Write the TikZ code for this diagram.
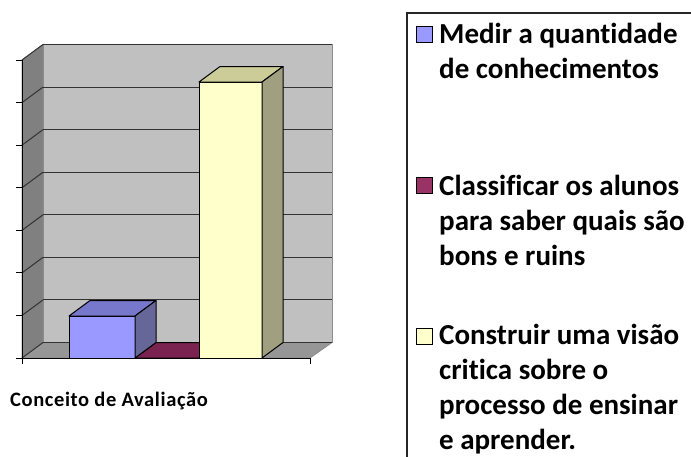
\documentclass[tikz,border=0pt]{standalone}
\usepackage{fontspec}
\setmainfont{Carlito}[Ligatures=CommonOff]
\definecolor{backwall}{HTML}{C0C0C0}
\definecolor{sidewall}{HTML}{808080}
\definecolor{floorgray}{HTML}{969696}
\definecolor{medirfront}{HTML}{9999FF}
\definecolor{medirtop}{HTML}{7777CC}
\definecolor{medirside}{HTML}{666699}
\definecolor{classtop}{HTML}{7B2350}
\definecolor{classkey}{HTML}{993366}
\definecolor{construfront}{HTML}{FFFFCC}
\definecolor{construtop}{HTML}{CCCC99}
\definecolor{construside}{HTML}{A0A080}
\begin{document}
\begin{tikzpicture}[x=1pt, y=-1pt,
        wall/.style = {draw=black!45, line width=0.8pt},
        gridline/.style = {draw=black!80, line width=1pt},
        axisline/.style = {draw=black, line width=1pt},
        barface/.style = {draw=black, line width=1pt, line join=round},
        keybox/.style = {draw=black, line width=1pt, minimum size=16pt,
            inner sep=0pt},
        legendtext/.style = {font=\fontsize{29}{35}\selectfont\bfseries,
            align=left, anchor=base west, inner sep=0pt}]
    \clip (0,0) rectangle (691,456);
    \fill[white] (0,0) rectangle (691,456);
    % walls and floor
    \filldraw[wall, fill=backwall] (43,44.5) rectangle (332,342.5);
    \filldraw[wall, fill=sidewall] (22,60) -- (43,44.5) -- (43,342.5) -- (22,358) -- cycle;
    \filldraw[wall, fill=floorgray] (22,358) -- (43,342.5) -- (332,342.5) -- (310,358) -- cycle;
    \foreach \i in {0,...,7} {
        \draw[gridline] (43,{342.5-42.57*\i}) -- (332,{342.5-42.57*\i});
        \draw[gridline] (22,{358-42.57*\i}) -- (43,{342.5-42.57*\i});
        \draw[axisline] (16,{358-42.57*\i}) -- (22,{358-42.57*\i});
    }
    \draw[axisline] (22,60) -- (22,358) -- (310,358);
    \draw[axisline] (22,358) -- (22,364);
    \draw[axisline] (310,358) -- (310,364);
    % Classificar (zero)
    \filldraw[barface, fill=classtop] (135,358) -- (199,358) -- (220,342.5) -- (156,342.5) -- cycle;
    % Medir
    \filldraw[barface, fill=medirfront] (69,316) rectangle (135,358);
    \filldraw[barface, fill=medirtop] (69,316) -- (135,316) -- (156,300.5) -- (90,300.5) -- cycle;
    \filldraw[barface, fill=medirside] (135,316) -- (156,300.5) -- (156,342.5) -- (135,358) -- cycle;
    % Construir
    \filldraw[barface, fill=construfront] (199,82) rectangle (262,358);
    \filldraw[barface, fill=construtop] (199,82) -- (262,82) -- (283,66.5) -- (220,66.5) -- cycle;
    \filldraw[barface, fill=construside] (262,82) -- (283,66.5) -- (283,342.5) -- (262,358) -- cycle;
    % axis title
    \node[font=\fontsize{20.5}{24}\selectfont\bfseries\addfontfeature{LetterSpace=3},
        anchor=base west, inner sep=0pt]
        (xtitle) at (10,406.5) {Conceito de Avaliação};
    % legend (base = last line)
    \draw[line width=1.6pt, draw=black!85] (407,13) rectangle (720,480);
    \node[legendtext] (leg1) at (439,78) {Medir a quantidade\\de conhecimentos};
    \node[legendtext] (leg2) at (439,265) {Classificar os alunos\\para saber quais são\\bons e ruins};
    \node[legendtext] (leg3) at (439,449) {Construir uma visão\\critica sobre o\\processo de ensinar\\e aprender.};
    \node[keybox, fill=medirfront] (key1) at (424.5,34) {};
    \node[keybox, fill=classkey] (key2) at (424.5,185.5) {};
    \node[keybox, fill=construfront] (key3) at (424.5,336) {};
\end{tikzpicture}
\end{document}
